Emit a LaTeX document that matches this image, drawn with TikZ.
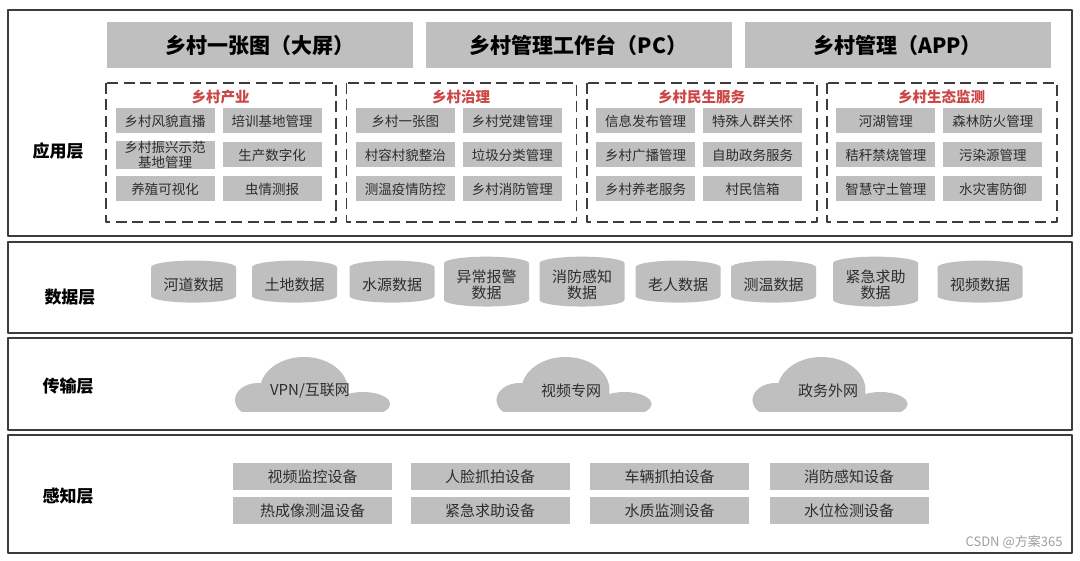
\documentclass[tikz,border=0pt]{standalone}
\usepackage{fontspec}
\setmainfont{Noto Sans CJK SC}
\usetikzlibrary{shapes.geometric}
\definecolor{boxgray}{RGB}{191,191,191}
\definecolor{titlered}{RGB}{204,70,70}
\definecolor{framegray}{RGB}{60,60,60}
\definecolor{txtgray}{RGB}{45,45,45}
\begin{document}
\begin{tikzpicture}[x=1pt,y=-1pt, line join=round,
    layer/.style={draw=framegray, line width=1.4pt},
    layername/.style={font=\fontsize{17}{19}\selectfont\bfseries, text=black},
    topbox/.style={fill=boxgray, minimum width=306pt, minimum height=46pt, inner sep=0pt, font=\fontsize{21}{23}\selectfont\bfseries, text=black},
    group/.style={draw=framegray, line width=1.8pt, dash pattern=on 11pt off 5.5pt},
    grouptitle/.style={text=titlered, font=\fontsize{14.5}{16}\selectfont\bfseries},
    appbox/.style={fill=boxgray, minimum width=99pt, minimum height=25pt, inner sep=0pt, align=center, font=\fontsize{13.5}{15}\selectfont, text=txtgray},
    dbase/.style={cylinder, shape border rotate=90, aspect=0.22, fill=boxgray, minimum width=85pt, minimum height=42pt, inner sep=0pt, align=center, font=\fontsize{15}{16}\selectfont, text=txtgray},
    cloudtext/.style={font=\fontsize{15}{16}\selectfont, text=txtgray},
    sensebox/.style={fill=boxgray, minimum width=159pt, minimum height=27pt, inner sep=0pt, font=\fontsize{15}{16}\selectfont, text=txtgray}]
  \def\cloudshape(#1,#2){\begin{scope}[shift={(#1,#2)}]
      \clip (-90,0) rectangle (90,-70);
      \fill[boxgray] (-55,-12) ellipse (23 and 17);
      \fill[boxgray] (-9,-22) ellipse (44 and 33);
      \fill[boxgray] (50,-8) ellipse (27 and 12);
      \fill[boxgray] (-60,-12) rectangle (55,0);
    \end{scope}}
  \useasboundingbox (0,0) rectangle (1080,561);
  \fill[white] (0,0) rectangle (1080,561);
  \foreach \n/\t/\b/\lx/\ly/\s in {app/10/236/58/151/应用层, data/242/333/70/297/数据层, trans/338/430/68/386/传输层, sense/435/553/68/496/感知层} {
    \draw[layer] (8,\t) rectangle (1072,\b);
    \node[layername] (\n-label) at (\lx,\ly) {\s};
  }
  \foreach \x/\s/\n in {259.5/乡村一张图（大屏）/screen, 578.5/乡村管理工作台（PC）/pc, 897.5/乡村管理（APP）/mobile}
    \node[topbox] (\n) at (\x,45) {\s};
  \foreach \gx/\gt [count=\k] in {106/乡村产业, 346.5/乡村治理, 587/乡村民生服务, 827/乡村生态监测} {
    \draw[group] (\gx,83) rectangle ++(230,139);
    \node[grouptitle] (title\k) at (\gx+114.5,97) {\gt};
  }
  \foreach \g/\c/\r/\s in {1/0/0/乡村风貌直播, 1/1/0/培训基地管理, 1/0/1/乡村振兴示范\\基地管理, 1/1/1/生产数字化, 1/0/2/养殖可视化, 1/1/2/虫情测报,
      2/0/0/乡村一张图, 2/1/0/乡村党建管理, 2/0/1/村容村貌整治, 2/1/1/垃圾分类管理, 2/0/2/测温疫情防控, 2/1/2/乡村消防管理,
      3/0/0/信息发布管理, 3/1/0/特殊人群关怀, 3/0/1/乡村广播管理, 3/1/1/自助政务服务, 3/0/2/乡村养老服务, 3/1/2/村民信箱,
      4/0/0/河湖管理, 4/1/0/森林防火管理, 4/0/1/秸秆禁烧管理, 4/1/1/污染源管理, 4/0/2/智慧守土管理, 4/1/2/水灾害防御}
    \node[appbox] (box\g-\c-\r) at (106+240.33*\g-240.33+59+107*\c, 121+34*\r) {\s};
  \foreach \x/\s [count=\i] in {193.5/河道数据, 294.5/土地数据, 392/水源数据, 486.5/异常报警\\数据, 582/消防感知\\数据, 678/老人数据, 773.5/测温数据, 875.5/紧急求助\\数据, 980/视频数据}
    \node[dbase] (db\i) at (\x,285) {\s};
  \cloudshape(313,412)
  \cloudshape(574.5,412)
  \cloudshape(830.5,412)
  \node[cloudtext] (vpn) at (310,391) {VPN/互联网};
  \node[cloudtext] (video) at (571,391) {视频专网};
  \node[cloudtext] (gov) at (828,391) {政务外网};
  \foreach \x/\a/\b [count=\i] in {312.5/视频监控设备/热成像测温设备, 490/人脸抓拍设备/紧急求助设备, 669.5/车辆抓拍设备/水质监测设备, 849/消防感知设备/水位检测设备} {
    \node[sensebox] (sa\i) at (\x,476.5) {\a};
    \node[sensebox] (sb\i) at (\x,510.5) {\b};
  }
  \node[anchor=south east, text=gray!75, font=\fontsize{13}{15}\selectfont] (mark) at (1066,552) {CSDN @方案365};
\end{tikzpicture}
\end{document}
